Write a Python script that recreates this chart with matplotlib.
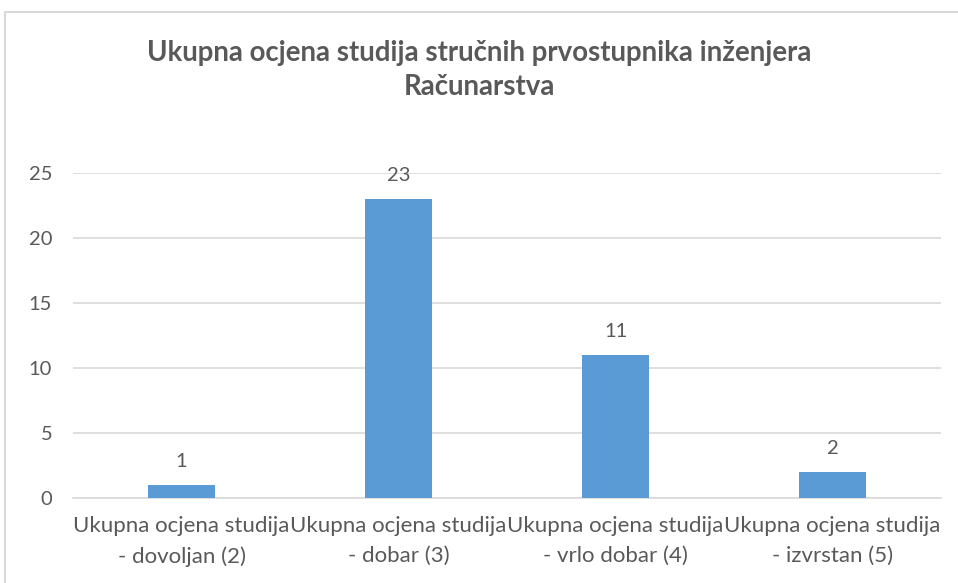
import matplotlib
matplotlib.use("Agg")
import matplotlib.pyplot as plt
from matplotlib.patches import Rectangle

##### Chart data #####
categories = ["Ukupna ocjena studija\n- dovoljan (2)",
              "Ukupna ocjena studija\n- dobar (3)",
              "Ukupna ocjena studija\n- vrlo dobar (4)",
              "Ukupna ocjena studija\n- izvrstan (5)"]
counts = [1, 23, 11, 2]
y_ticks = [0, 5, 10, 15, 20, 25]
title = "Ukupna ocjena studija stručnih prvostupnika inženjera\nRačunarstva"

TEXT = "#595959"
GRID = "#D9D9D9"
BAR = "#5B9BD5"

plt.rcParams['font.family'] = ['Lato', 'DejaVu Sans']

fig = plt.figure(figsize=(9.58, 5.83), dpi=100)

##### Outer chart border (Excel style) #####
fig.patches.append(Rectangle((5/958, -0.1), 1.2, 0.1 + 1 - 12/583, transform=fig.transFigure,
                             fill=False, edgecolor=GRID, linewidth=1.5))

ax = fig.add_axes([73/958, 1 - 498/583, (941 - 73)/958, (498 - 173)/583])
x = range(len(categories))
bars = ax.bar(x, counts, width=0.31, color=BAR, zorder=3)

ax.set_xlim(-0.5, len(categories) - 0.5)
ax.set_ylim(0, 25)
ax.set_yticks(y_ticks)
ax.yaxis.grid(True, color=GRID, linewidth=1.2, zorder=0)
ax.set_xticks(list(x))
ax.set_xticklabels(categories, fontsize=16, color=TEXT, linespacing=1.6)
ax.tick_params(axis='y', labelsize=14.5, labelcolor=TEXT, length=0, pad=15)
ax.tick_params(axis='x', length=0, pad=13)
for s in ['top', 'right', 'left']:
    ax.spines[s].set_visible(False)
ax.spines['bottom'].set_color(GRID)
ax.spines['bottom'].set_linewidth(1.2)

##### Data labels #####
for b, v in zip(bars, counts):
    ax.annotate(str(v), (b.get_x() + b.get_width()/2, v), xytext=(0, 11),
                textcoords='offset points', ha='center', va='bottom',
                fontsize=14.5, color=TEXT)

fig.text(0.5, 1 - 70/583, title, ha='center', va='center', fontsize=19.9,
         fontweight='bold', color=TEXT, linespacing=1.4)

fig.savefig("out.png", dpi=100)
